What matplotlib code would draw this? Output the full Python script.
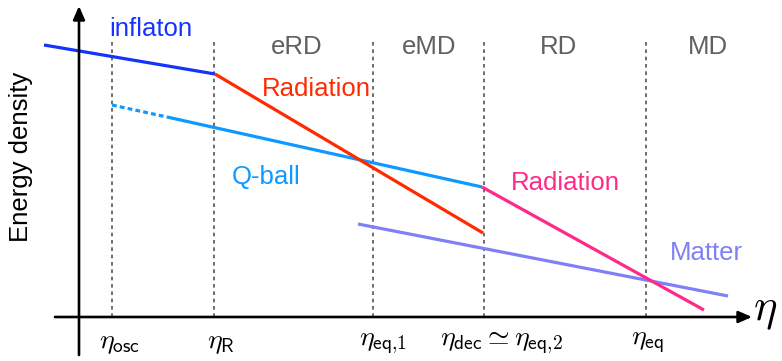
import matplotlib
matplotlib.use("Agg")
import matplotlib.pyplot as plt

plt.rcParams['font.family'] = ['Liberation Sans', 'DejaVu Sans']
plt.rcParams['mathtext.fontset'] = 'cm'

# Schematic coordinates (pixel-like units, y grows downward)
inflaton_x = [44, 215]
inflaton_y = [45, 74]
radiation1_x = [215, 483]
radiation1_y = [74, 233]
qball_dot_x = [112, 167]
qball_dot_y = [105, 117]
qball_x = [167, 482]
qball_y = [117, 187]
radiation2_x = [482, 704]
radiation2_y = [187, 310]
matter_x = [358, 728]
matter_y = [224, 296]

epoch_x = [112, 214, 373, 484, 646]
epoch_labels = [r'$\eta_{\mathsf{osc}}$', r'$\eta_{\mathsf{R}}$', r'$\eta_{\mathsf{eq{,}1}}$',
                r'$\eta_{\mathsf{dec}}\simeq\eta_{\mathsf{eq{,}2}}$', r'$\eta_{\mathsf{eq}}$']
epoch_label_x = [119, 221, 383, 501, 647]
era_labels = ['eRD', 'eMD', 'RD', 'MD']
era_x = [297, 429, 558, 708]

W, H = 782, 361
fig = plt.figure(figsize=(W / 100, H / 100), dpi=100)
ax = fig.add_axes([0, 0, 1, 1])
ax.set_xlim(0, W)
ax.set_ylim(H, 0)
ax.axis('off')

axis_y = 317
axis_x = 79

# dotted epoch lines
for x in epoch_x:
    ax.plot([x, x], [42, axis_y], color='#555555', lw=1.2, ls=(0, (2.2, 2.2)), zorder=1)

# curves
lw = 2.3
ax.plot(inflaton_x, inflaton_y, color='#1433ff', lw=lw, solid_capstyle='butt', zorder=3)
ax.plot(radiation1_x, radiation1_y, color='#ff2a00', lw=lw, solid_capstyle='butt', zorder=3)
ax.plot(qball_dot_x, qball_dot_y, color='#0d99ff', lw=lw, ls=(0, (1.5, 1.0)), zorder=3)
ax.plot(qball_x, qball_y, color='#0d99ff', lw=lw, solid_capstyle='butt', zorder=2)
ax.plot(radiation2_x, radiation2_y, color='#ff2a88', lw=lw, solid_capstyle='butt', zorder=3)
ax.plot(matter_x, matter_y, color='#7f7ff7', lw=lw, solid_capstyle='butt', zorder=2)

# axes with arrows
ax.annotate('', xy=(axis_x, 6), xytext=(axis_x, 355),
            arrowprops=dict(arrowstyle='-|>,head_length=0.8,head_width=0.35', color='black', lw=1.9,
                            shrinkA=0, shrinkB=0), zorder=4)
ax.annotate('', xy=(752, axis_y), xytext=(55, axis_y),
            arrowprops=dict(arrowstyle='-|>,head_length=0.8,head_width=0.35', color='black', lw=1.9,
                            shrinkA=0, shrinkB=0), zorder=4)

fs = 18.5
ax.text(151, 29, 'inflaton', color='#1433ff', fontsize=fs, ha='center', va='center')
ax.text(316, 89, 'Radiation', color='#ff2a00', fontsize=fs, ha='center', va='center')
ax.text(266, 177, 'Q-ball', color='#0d99ff', fontsize=fs, ha='center', va='center')
ax.text(565, 183, 'Radiation', color='#ff2a88', fontsize=fs, ha='center', va='center')
ax.text(706, 253, 'Matter', color='#7f7ff7', fontsize=fs, ha='center', va='center')
for lab, x in zip(era_labels, era_x):
    ax.text(x, 47, lab, color='#606060', fontsize=fs, ha='center', va='center')

ax.text(21, 157, 'Energy density', color='black', fontsize=fs, rotation=90,
        ha='center', va='center')

for lab, x in zip(epoch_labels, epoch_label_x):
    ax.text(x, 343, lab, color='black', fontsize=20, ha='center', va='center')

ax.text(765, 311, r'$\eta$', color='black', fontsize=32, ha='center', va='center')

fig.savefig('out.png', dpi=100)
